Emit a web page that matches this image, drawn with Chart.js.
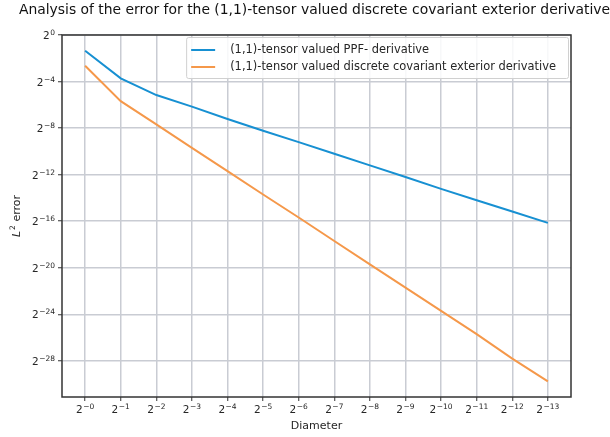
<!DOCTYPE html>
<html>
<head>
<meta charset="utf-8">
<script src="https://cdn.jsdelivr.net/npm/chart.js@4/dist/chart.umd.min.js"></script>
<style>
  html, body { margin: 0; padding: 0; background: #fff; }
  #wrap { width: 610px; height: 437px; }
</style>
</head>
<body>
<div id="wrap"><canvas id="errorChart" width="610" height="437"></canvas></div>
<script>
// Diameter = 2^k, error = 2^e  (exponents)
const diameterExp = [0, -1, -2, -3, -4, -5, -6, -7, -8, -9, -10, -11, -12, -13];
const ppfErrExp = [-1.35, -3.72, -5.16, -6.15, -7.22, -8.23, -9.2, -10.2, -11.2, -12.2, -13.22, -14.2, -15.17, -16.14];
const dceErrExp = [-2.64, -5.68, -7.68, -9.7, -11.7, -13.7, -15.68, -17.7, -19.7, -21.7, -23.7, -25.7, -27.8, -29.75];
const xTickExp = [0, -1, -2, -3, -4, -5, -6, -7, -8, -9, -10, -11, -12, -13];
const yTickExp = [0, -4, -8, -12, -16, -20, -24, -28];
const seriesLabels = ['(1,1)-tensor valued PPF- derivative', '(1,1)-tensor valued discrete covariant exterior derivative'];
const seriesColors = ['#1790d2', '#f5984a'];
const chartTitle = 'Analysis of the error for the (1,1)-tensor valued discrete covariant exterior derivative';

const FONT = '"DejaVu Sans"';
const TEXT = '#262626';

// exponent text for a power of two, e.g. -13 -> "−13", x axis writes -0 too
const expText = (v, signedZero) => (v < 0 || signedZero ? '\u2212' : '') + Math.abs(v);

// draws "2" with a raised exponent, anchor: 'center' (x axis) or 'right' (y axis)
function drawPow2(c, exp, x, baseline, anchor) {
  c.font = '10.5px ' + FONT;
  const wb = c.measureText('2').width;
  c.font = '7.5px ' + FONT;
  const we = c.measureText(exp).width + 0.5;
  const left = anchor === 'center' ? x - (wb + we) / 2 : x - wb - we;
  c.textAlign = 'left';
  c.textBaseline = 'alphabetic';
  c.font = '10.5px ' + FONT;
  c.fillText('2', left, baseline);
  c.font = '7.5px ' + FONT;
  c.fillText(exp, left + wb + 0.5, baseline - 4);
}

const decorPlugin = {
  id: 'decor',
  afterDraw(chart) {
    const { ctx: c, chartArea: a, scales } = chart;
    c.save();
    // axes frame
    c.strokeStyle = '#333';
    c.lineWidth = 1.5;
    c.strokeRect(a.left, a.top, a.right - a.left, a.bottom - a.top);

    // title, centred over the axes
    c.fillStyle = '#111';
    c.font = '13.9px ' + FONT;
    c.textAlign = 'center';
    c.textBaseline = 'alphabetic';
    c.fillText(chartTitle, (a.left + a.right) / 2 - 2, 14);

    // tick labels
    c.fillStyle = TEXT;
    xTickExp.forEach(v => drawPow2(c, expText(v, true), scales.x.getPixelForValue(v), a.bottom + 16, 'center'));
    yTickExp.forEach(v => drawPow2(c, expText(v, false), a.left - 7, scales.y.getPixelForValue(v) + 4, 'right'));

    // y axis title: L^2 error
    c.translate(17, (a.top + a.bottom) / 2);
    c.rotate(-Math.PI / 2);
    c.font = 'italic 11px ' + FONT;
    const wL = c.measureText('L').width;
    c.font = '7.5px ' + FONT;
    const w2 = c.measureText('2').width;
    c.font = '11px ' + FONT;
    const wRest = c.measureText(' error').width;
    let x = -(wL + w2 + wRest + 1) / 2;
    c.textAlign = 'left';
    c.textBaseline = 'middle';
    c.font = 'italic 11px ' + FONT;
    c.fillText('L', x, 0);
    x += wL + 1;
    c.font = '7.5px ' + FONT;
    c.fillText('2', x, -4);
    x += w2;
    c.font = '11px ' + FONT;
    c.fillText(' error', x, 0);
    c.setTransform(1, 0, 0, 1, 0, 0);

    // legend
    c.font = '11.45px ' + FONT;
    const textW = Math.max(...seriesLabels.map(t => c.measureText(t).width));
    const w = 44 + textW + 12;
    const h = 41;
    const x0 = a.right - 3 - w;
    const y0 = a.top + 2;
    c.fillStyle = 'rgba(255,255,255,0.85)';
    c.strokeStyle = '#d0d0d0';
    c.lineWidth = 1;
    c.beginPath();
    c.roundRect(x0 + 0.5, y0 + 0.5, w, h, 2);
    c.fill();
    c.stroke();
    c.textBaseline = 'middle';
    seriesLabels.forEach((t, i) => {
      const cy = y0 + 13 + i * 17;
      c.strokeStyle = seriesColors[i];
      c.lineWidth = 2;
      c.beginPath();
      c.moveTo(x0 + 5, cy);
      c.lineTo(x0 + 29, cy);
      c.stroke();
      c.fillStyle = TEXT;
      c.fillText(t, x0 + 44, cy);
    });
    c.restore();
  }
};

const ctx = document.getElementById('errorChart').getContext('2d');
new Chart(ctx, {
  type: 'line',
  data: {
    datasets: [
      {
        label: seriesLabels[0],
        data: diameterExp.map((x, i) => ({ x, y: ppfErrExp[i] })),
        borderColor: seriesColors[0],
        borderWidth: 2,
        pointRadius: 0,
        fill: false
      },
      {
        label: seriesLabels[1],
        data: diameterExp.map((x, i) => ({ x, y: dceErrExp[i] })),
        borderColor: seriesColors[1],
        borderWidth: 2,
        pointRadius: 0,
        fill: false
      }
    ]
  },
  options: {
    responsive: false,
    animation: false,
    devicePixelRatio: 1,
    layout: { padding: { left: 0, right: 39, top: 35, bottom: 0 } },
    plugins: {
      legend: { display: false },
      tooltip: { enabled: false },
      title: { display: false }
    },
    scales: {
      x: {
        type: 'linear',
        reverse: true,
        min: -13.65,
        max: 0.65,
        afterBuildTicks: s => { s.ticks = xTickExp.map(v => ({ value: v })); },
        afterFit: s => { s.height = 40; },
        ticks: { display: false },
        grid: { color: '#c9ccd3', lineWidth: 1.5, tickLength: 4, tickColor: '#333', tickWidth: 1 },
        border: { display: false },
        title: {
          display: true,
          text: 'Diameter',
          color: TEXT,
          font: { family: 'DejaVu Sans', size: 11 },
          padding: { top: 0, bottom: 4 }
        }
      },
      y: {
        type: 'linear',
        min: -31.1,
        max: 0,
        afterBuildTicks: s => { s.ticks = yTickExp.map(v => ({ value: v })); },
        afterFit: s => { s.width = 62; },
        ticks: { display: false },
        grid: { color: '#c9ccd3', lineWidth: 1.5, tickLength: 4, tickColor: '#333', tickWidth: 1 },
        border: { display: false }
      }
    }
  },
  plugins: [decorPlugin]
});
</script>
</body>
</html>
